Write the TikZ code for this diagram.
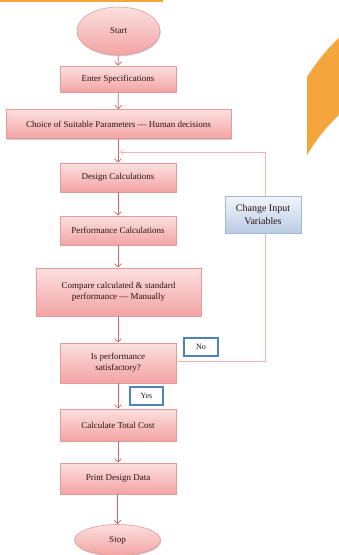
\documentclass[tikz,border=0pt]{standalone}
\usepackage{fontspec}
\setmainfont{Liberation Serif}
\usetikzlibrary{arrows.meta,shapes.geometric,shadows}
\definecolor{pinktop}{HTML}{FCE0E0}
\definecolor{pinkbot}{HTML}{F3A3A3}
\definecolor{pinkborder}{HTML}{E39C9C}
\definecolor{txt}{HTML}{2A1414}
\definecolor{arrowc}{HTML}{CC6666}
\definecolor{fbline}{HTML}{E8B4B4}
\definecolor{bluetop}{HTML}{F3F6FB}
\definecolor{bluebot}{HTML}{B9CBE5}
\definecolor{blueborder}{HTML}{A3B8D8}
\definecolor{labblue}{HTML}{4F81BD}
\definecolor{orangec}{HTML}{F4A53C}
\tikzset{
  procbox/.style={rectangle, draw=pinkborder, line width=0.6pt, top color=pinktop, bottom color=pinkbot,
    text=txt, font=\fontsize{9}{10.5}\selectfont, align=center, inner sep=0pt,
    drop shadow={shadow xshift=0.8pt, shadow yshift=-1.2pt, fill=black!40, opacity=0.5}},
  termnode/.style={procbox, ellipse},
  bluebox/.style={rectangle, draw=blueborder, line width=0.6pt, top color=bluetop, bottom color=bluebot,
    text=txt, font=\fontsize{10}{12.5}\selectfont, align=center, inner sep=0pt,
    drop shadow={shadow xshift=0.8pt, shadow yshift=-1.2pt, fill=black!40, opacity=0.5}},
  labbox/.style={rectangle, draw=labblue, line width=1.6pt, fill=white, text=txt,
    font=\fontsize{8}{9}\selectfont, inner sep=0pt},
  flow/.style={draw=arrowc, line width=0.7pt, -{Straight Barb[length=3.5pt,width=7pt]}},
  fback/.style={draw=fbline, line width=0.8pt, -{Straight Barb[length=2.5pt,width=4pt]}}
}
\begin{document}
\begin{tikzpicture}[x=1pt,y=-1pt]
\useasboundingbox (0,0) rectangle (339,555);
\fill[white] (0,0) rectangle (339,555);
% decorative orange
\fill[orangec] (0,0) rectangle (163,2.2);
\fill[orangec] (307,77) .. controls (318,60) and (328,48) .. (339,38) -- (339,115)
  .. controls (327,126) and (316,140) .. (307,155) -- cycle;
% nodes
\node[termnode, minimum width=83pt, minimum height=48pt] (start) at (118.5,31) {Start};
\node[procbox, minimum width=116pt, minimum height=26pt] (spec) at (118,79) {Enter Specifications};
\node[procbox, minimum width=225pt, minimum height=29pt] (choice) at (118.5,124) {Choice of Suitable Parameters --- Human decisions};
\node[procbox, minimum width=116pt, minimum height=29pt] (design) at (118,177.5) {Design Calculations};
\node[procbox, minimum width=116pt, minimum height=29pt] (perf) at (118,230.5) {Performance Calculations};
\node[procbox, minimum width=165pt, minimum height=48pt] (comp) at (118.5,292) {Compare calculated \& standard\\performance --- Manually};
\node[procbox, minimum width=116pt, minimum height=40pt] (sat) at (118,363) {Is performance\\satisfactory?};
\node[procbox, minimum width=116pt, minimum height=32pt] (cost) at (118,425) {Calculate Total Cost};
\node[procbox, minimum width=116pt, minimum height=31pt] (print) at (118,478.5) {Print Design Data};
\node[termnode, minimum width=86pt, minimum height=31pt] (stop) at (117.5,540) {Stop};
% feedback path
\coordinate (fbr) at (265,361);
\coordinate (fbt) at (265,152);
\coordinate (fbend) at (120,152);
\draw[fback] (sat.east |- fbr) -- (fbr) -- (fbt) -- (fbend);
\node[bluebox, minimum width=76pt, minimum height=37pt] (chg) at (263,214.5) {Change Input\\Variables};
% labels
\node[labbox, minimum width=34pt, minimum height=18pt] (no) at (201,347) {No};
\node[labbox, minimum width=33pt, minimum height=18pt] (yes) at (146.5,396) {Yes};
% main flow
\draw[flow] (start) -- (spec);
\draw[flow] (spec) -- (choice);
\draw[flow] (choice.south -| design) -- (design);
\draw[flow] (design) -- (perf);
\draw[flow] (perf) -- (comp.north -| perf);
\draw[flow] (comp.south -| sat) -- (sat);
\draw[flow] (sat) -- (cost);
\draw[flow] (cost) -- (print);
\draw[flow] (print.south -| stop) -- (stop);
\end{tikzpicture}
\end{document}
